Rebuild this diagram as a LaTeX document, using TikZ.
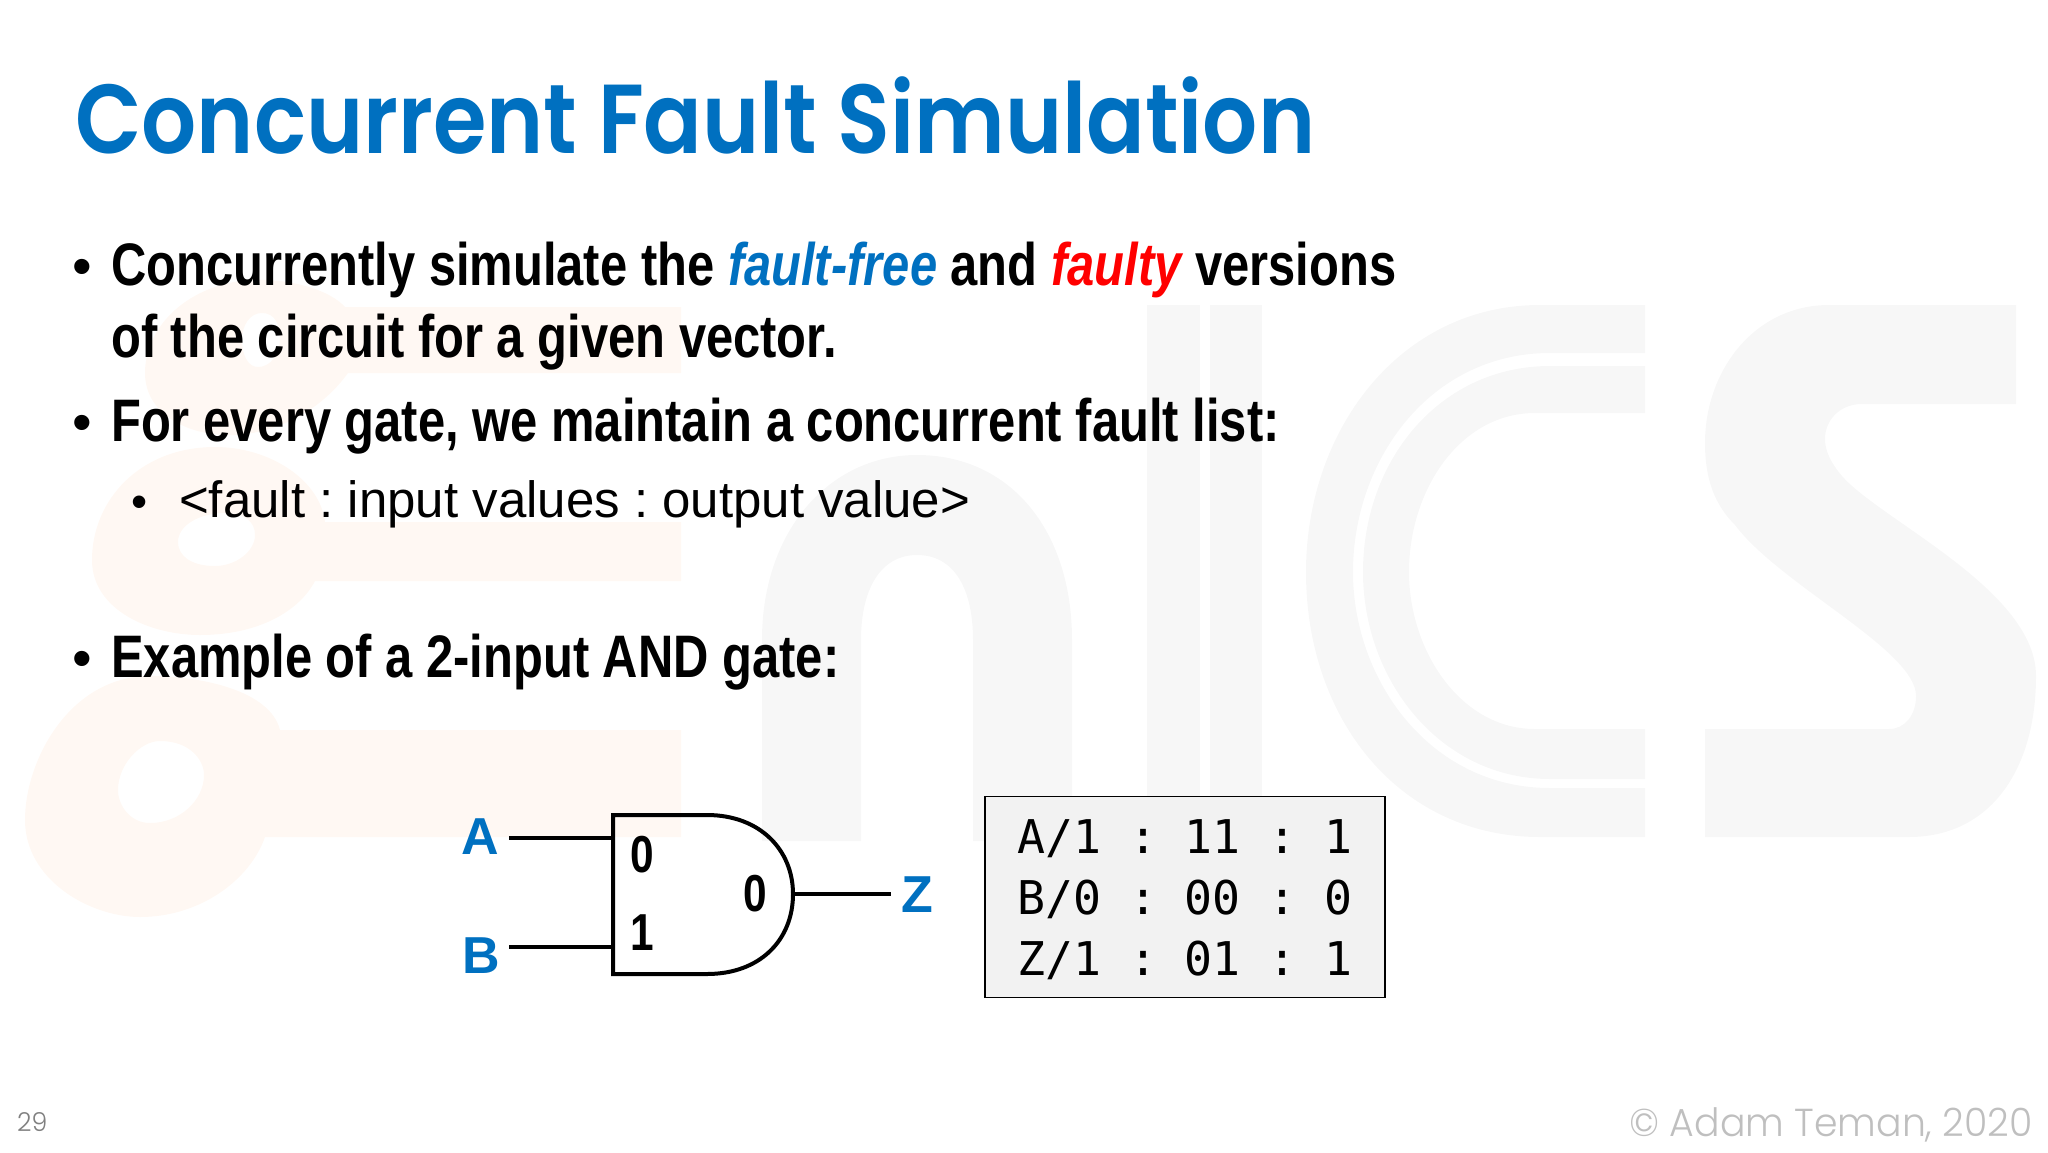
\documentclass[tikz,border=0pt]{standalone}
\usepackage{fontspec}
\setmainfont{Liberation Sans}
\newfontfamily\titlefont[FakeStretch=0.883]{Poppins SemiBold}
\newfontfamily\footfont[FakeStretch=0.97]{Poppins Light}
\newfontfamily\boldnarrow[FakeStretch=0.815]{Liberation Sans Bold}
\newfontfamily\boldnarrowit[FakeStretch=0.815]{Liberation Sans Bold Italic}
\newfontfamily\tablefont{DejaVu Sans Mono}
\usetikzlibrary{positioning}
\definecolor{slideblue}{HTML}{0070C0}
\definecolor{markgrey}{HTML}{F7F7F7}
\definecolor{markorange}{HTML}{FFF8F3}
\definecolor{boxgrey}{HTML}{F2F2F2}
\definecolor{footgrey}{HTML}{BFBFBF}
\tikzset{
  bigline/.style={anchor=base west, inner sep=0pt, font=\boldnarrow\fontsize{60}{60}\selectfont},
  dotline/.style={anchor=base west, inner sep=0pt, font=\fontsize{56}{56}\selectfont},
  pinlabel/.style={inner sep=0pt, text=slideblue, font=\bfseries\fontsize{52}{52}\selectfont},
  gateval/.style={inner sep=0pt, font=\boldnarrow\fontsize{52}{52}\selectfont},
  wire/.style={line width=4pt}
}
\frenchspacing
\begin{document}
\begin{tikzpicture}[x=1pt, y=-1pt]
\useasboundingbox (0,0) rectangle (2048,1152);
% watermark
\fill[markorange, even odd rule] (681,730) -- (280,730) .. controls (270,690) and (200,676) .. (150,676)
  .. controls (70,676) and (25,760) .. (25,820) .. controls (25,880) and (90,917) .. (140,917)
  .. controls (200,917) and (250,880) .. (265,837) -- (681,837) -- cycle
  (160,741) .. controls (190,741) and (204,760) .. (204,775) .. controls (204,800) and (180,823) .. (150,823)
  .. controls (130,823) and (118,805) .. (118,790) .. controls (118,765) and (140,741) .. (160,741);
\fill[markorange, even odd rule] (681,522) -- (325,522) .. controls (320,480) and (270,447) .. (215,447)
  .. controls (140,447) and (92,500) .. (92,560) .. controls (92,610) and (150,635) .. (200,635)
  .. controls (260,635) and (300,610) .. (315,581) -- (681,581) -- cycle
  (225,513) .. controls (245,513) and (255,522) .. (255,535) .. controls (255,552) and (235,566) .. (215,566)
  .. controls (190,566) and (178,555) .. (178,542) .. controls (178,525) and (200,513) .. (225,513);
\fill[markorange, even odd rule] (681,307) -- (345,307) .. controls (330,290) and (290,278) .. (250,280)
  .. controls (190,284) and (145,325) .. (145,373) .. controls (145,415) and (190,437) .. (235,435)
  .. controls (285,432) and (325,405) .. (348,373) -- (681,373) -- cycle
  (262,313) .. controls (275,313) and (280,325) .. (280,338) .. controls (280,355) and (270,367) .. (258,367)
  .. controls (248,367) and (242,355) .. (242,340) .. controls (242,325) and (250,313) .. (262,313);
% nics letters
\fill[markgrey] (762,841) -- (762,640) .. controls (762,530) and (830,455) .. (917,455)
  .. controls (1010,455) and (1072,530) .. (1072,640) -- (1072,841) -- (973,841) -- (973,640)
  .. controls (973,590) and (955,555) .. (917,555) .. controls (880,555) and (861,590) .. (861,640) -- (861,841) -- cycle;
\fill[markgrey] (1147,305) rectangle (1200,841);
\fill[markgrey] (1210,305) rectangle (1262,841);
\fill[markgrey] (1645,305) -- (1540,305) .. controls (1400,305) and (1306,430) .. (1306,572)
  .. controls (1306,720) and (1400,837) .. (1540,837) -- (1645,837) -- (1645,788) -- (1550,788)
  .. controls (1430,788) and (1353,680) .. (1353,572) .. controls (1353,460) and (1430,353) .. (1550,353) -- (1645,353) -- cycle;
\fill[markgrey] (1645,366) -- (1550,366) .. controls (1440,366) and (1363,460) .. (1363,572)
  .. controls (1363,680) and (1440,779) .. (1550,779) -- (1645,779) -- (1645,729) -- (1535,729)
  .. controls (1460,729) and (1409,650) .. (1409,572) .. controls (1409,490) and (1460,413) .. (1535,413) -- (1645,413) -- cycle;
\fill[markgrey] (2016,305) -- (1829,305) .. controls (1755,305) and (1705,370) .. (1705,443)
  .. controls (1705,480) and (1715,505) .. (1735,525) .. controls (1780,585) and (1916,650) .. (1916,696)
  .. controls (1916,715) and (1905,729) .. (1889,729) -- (1705,729) -- (1705,837) -- (1909,837)
  .. controls (1990,837) and (2036,770) .. (2036,676) .. controls (2036,590) and (1880,520) .. (1842,476)
  .. controls (1830,462) and (1825,450) .. (1825,439) .. controls (1825,420) and (1840,404) .. (1862,404)
  -- (2016,404) -- cycle;
% text
\node[anchor=base west, inner sep=0pt, text=slideblue, font=\titlefont\fontsize{98}{98}\selectfont] (title) at (75,153) {Concurrent Fault Simulation};
\node[dotline] (dot1) at (72,285) {\textbullet};
\node[bigline] (line1) at (111,285) {Concurrently simulate the {\boldnarrowit\color{slideblue}fault-free} and {\boldnarrowit\color{red}faulty} versions};
\node[bigline] (line2) at (111,357) {of the circuit for a given vector.};
\node[dotline] (dot2) at (72,441) {\textbullet};
\node[bigline] (line3) at (111,441) {For every gate, we maintain a concurrent fault list:};
\node[anchor=base west, inner sep=0pt, font=\fontsize{46}{46}\selectfont] (dot3) at (131,517) {\textbullet};
\node[anchor=base west, inner sep=0pt, font=\fontsize{51}{51}\selectfont] (subline) at (179,517) {<fault : input values : output value>};
\node[dotline] (dot4) at (72,677.5) {\textbullet};
\node[bigline] (line4) at (111,677.5) {Example of a 2-input AND gate:};
% gate
\coordinate (gate in a) at (613,838);
\coordinate (gate in b) at (613,947);
\coordinate (gate out) at (793,894);
\coordinate (wire a) at (509,838);
\coordinate (wire b) at (509,947);
\coordinate (wire z) at (891,894);
\draw[line width=4pt] (613,815) -- (707,815) .. controls (760,815) and (793,850) .. (gate out)
  .. controls (793,940) and (760,974) .. (707,974) -- (613,974) -- cycle;
\node[pinlabel] (a) at (480,837) {A};
\node[pinlabel] (b) at (481,956) {B};
\node[pinlabel] (z) at (917,895) {Z};
\draw[wire] (wire a) -- (gate in a);
\draw[wire] (wire b) -- (gate in b);
\draw[wire] (gate out) -- (wire z);
\node[gateval] (inval a) at (642,855) {0};
\node[gateval] (inval b) at (642,933) {1};
\node[gateval] (outval) at (755,894) {0};
% fault list
\node[draw, line width=1.5pt, fill=boxgrey, minimum width=400pt, minimum height=201pt, inner sep=0pt] (faults) at (1185,897) {};
\node[inner sep=0pt, align=left, font=\tablefont\fontsize{46.5}{61}\selectfont] (faulttext) at ([yshift=-3pt]faults.center) {A/1 : 11 : 1\\B/0 : 00 : 0\\Z/1 : 01 : 1};
% footer
\node[anchor=base west, inner sep=0pt, text=black!50, font=\footfont\fontsize{26}{26}\selectfont] (pagenum) at (17,1131) {29};
\node[anchor=base east, inner sep=0pt, text=footgrey, font=\footfont\fontsize{39}{39}\selectfont] (copyright) at (2033,1136) {\textcopyright{} Adam Teman, 2020};
\end{tikzpicture}
\end{document}
